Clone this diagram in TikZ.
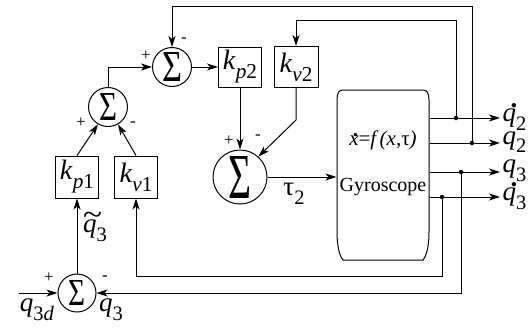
\documentclass[tikz,border=0pt]{standalone}
\usepackage{fontspec}
\setmainfont{Liberation Serif}
\usepackage{graphicx}
\usetikzlibrary{arrows.meta,calc}
\newcommand\vsub[1]{\raisebox{-0.32em}{\scalebox{0.76}{#1}}}
\newcommand\dotabove[3]{\makebox[0pt][l]{\hspace{#1}\raisebox{#2}{#3}}}
\newcommand\qdot[1]{\dotabove{0.3em}{0.52em}{\textbf{.}}\textit{q}\vsub{#1}}
\newcommand\qq[1]{\textit{q}\vsub{#1}}
\tikzset{
  arr/.style={-{Stealth[length=11pt,width=7pt,inset=3pt]}},
  sumnode/.style={circle,draw,line width=1pt,inner sep=0pt},
  gain/.style={rectangle,draw,line width=1pt,inner sep=0pt,font=\fontsize{28}{30}\selectfont},
  sgn/.style={inner sep=0pt,font=\fontsize{17}{18}\selectfont},
  lab/.style={inner sep=0pt,font=\fontsize{27}{29}\selectfont},
  dotp/.style={circle,fill,inner sep=0pt,minimum size=4.5pt},
}
\begin{document}
\begin{tikzpicture}[x=1pt,y=-1pt,line width=1pt]
\useasboundingbox (0,0) rectangle (532,327);
% summing junctions
\node[sumnode,minimum size=39pt] (s1) at (172,67) {\resizebox{20pt}{29pt}{Σ}};
\node[sumnode,minimum size=39pt] (s2) at (108,107) {\resizebox{18pt}{27pt}{Σ}};
\node[sumnode,minimum size=54pt] (s4) at (240,177) {\resizebox{23pt}{42pt}{Σ}};
\node[sumnode,minimum size=38pt] (s3) at (77,293) {\resizebox{17pt}{25pt}{Σ}};
% gains
\node[gain,minimum width=43pt,minimum height=40pt] (kp2) at (240,67) {\textit{k}\vsub{\textit{p}2}};
\node[gain,minimum width=44pt,minimum height=41pt] (kv2) at (296,67) {\textit{k}\vsub{\textit{v}2}};
\node[gain,minimum width=43pt,minimum height=42pt] (kp1) at (77,177) {\textit{k}\vsub{\textit{p}1}};
\node[gain,minimum width=43pt,minimum height=42pt] (kv1) at (136,177) {\textit{k}\vsub{\textit{v}1}};
% gyroscope block
\node[minimum width=92pt,minimum height=170pt,inner sep=0pt] (gy) at (383,175) {};
\draw (343,90) -- (423,90) .. controls (427,90) and (429,93) .. (429,100)
  -- (429,232) .. controls (429,245) and (427,255) .. (423,260)
  -- (343,260) .. controls (339,255) and (337,245) .. (337,232)
  -- (337,100) .. controls (337,93) and (339,90) .. (343,90);
\node[inner sep=0pt,font=\fontsize{21}{23}\selectfont] (eq) at (383,140)
  {\dotabove{0.17em}{0.42em}{\textbf{.}}\textit{x}=\textit{f}\kern0.05em\textit{(x,}τ\textit{)}};
\node[inner sep=0pt,font=\fontsize{20}{22}\selectfont] (gt) at (383,187) {Gyroscope};
% outputs
\coordinate (o1) at (500,118);
\coordinate (o2) at (500,143);
\coordinate (o3) at (500,172);
\coordinate (o4) at (500,197);
\draw[arr] (o1 -| gy.east) -- (o1);
\draw[arr] (o2 -| gy.east) -- (o2);
\draw[arr] (o3 -| gy.east) -- (o3);
\draw[arr] (o4 -| gy.east) -- (o4);
\node[lab,anchor=west] (l1) at (502,117) {\qdot{2}};
\node[lab,anchor=west] (l2) at (502,142) {\qq{2}};
\node[lab,anchor=west] (l3) at (502,171) {\qq{3}};
\node[lab,anchor=west] (l4) at (502,196) {\qdot{3}};
% branch points
\node[dotp] (d1) at (456,118) {};
\node[dotp] (d2) at (472,143) {};
\node[dotp] (d3) at (461,172) {};
\node[dotp] (d4) at (442,197) {};
% feedback paths
\draw[arr] (d1.center) -- (456,20) -| (kv2.north);
\draw[arr] (d2.center) -- (472,6) -| (s1.north);
\draw[arr] (d3.center) |- (s3.east);
\draw[arr] (d4.center) -- (442,276) -| (kv1.south);
% forward paths
\coordinate (in) at (19,293);
\draw[arr] (in) -- (s3.west);
\draw[arr] (s3.north) -- (kp1.south);
\draw[arr] (kp1.north) -- (s2.240);
\draw[arr] (kv1.north) -- (s2.300);
\draw[arr] (s2.north) |- (s1.west);
\draw[arr] (s1.east) -- (kp2.west);
\draw[arr] (kp2.south) -- (s4.north);
\draw[arr] (kv2.south) -- (296,120) -- (s4.48);
\draw[arr] (s4.east) -- (s4.east -| gy.west);
% signs
\node[sgn] (p1) at (146,56) {+};
\node[sgn] (m1) at (184,40) {-};
\node[sgn] (p2) at (81,123) {+};
\node[sgn] (m2) at (133,124) {-};
\node[sgn] (p4) at (229,141) {+};
\node[sgn] (m4) at (258,137) {-};
\node[sgn] (p3) at (49,278) {+};
\node[sgn] (m3) at (105,278) {-};
% labels
\node[lab] (lq3d) at (37,310) {\textit{q}\vsub{3\textit{d}}};
\node[lab] (lq3) at (111,310) {\qq{3}};
\node[lab] (lqt) at (95,227) {\dotabove{0.0em}{0.3em}{\scalebox{1.3}[1.1]{\~{}}}\qq{3}};
\node[lab] (ltau) at (294,194) {τ\vsub{2}};
\end{tikzpicture}
\end{document}
